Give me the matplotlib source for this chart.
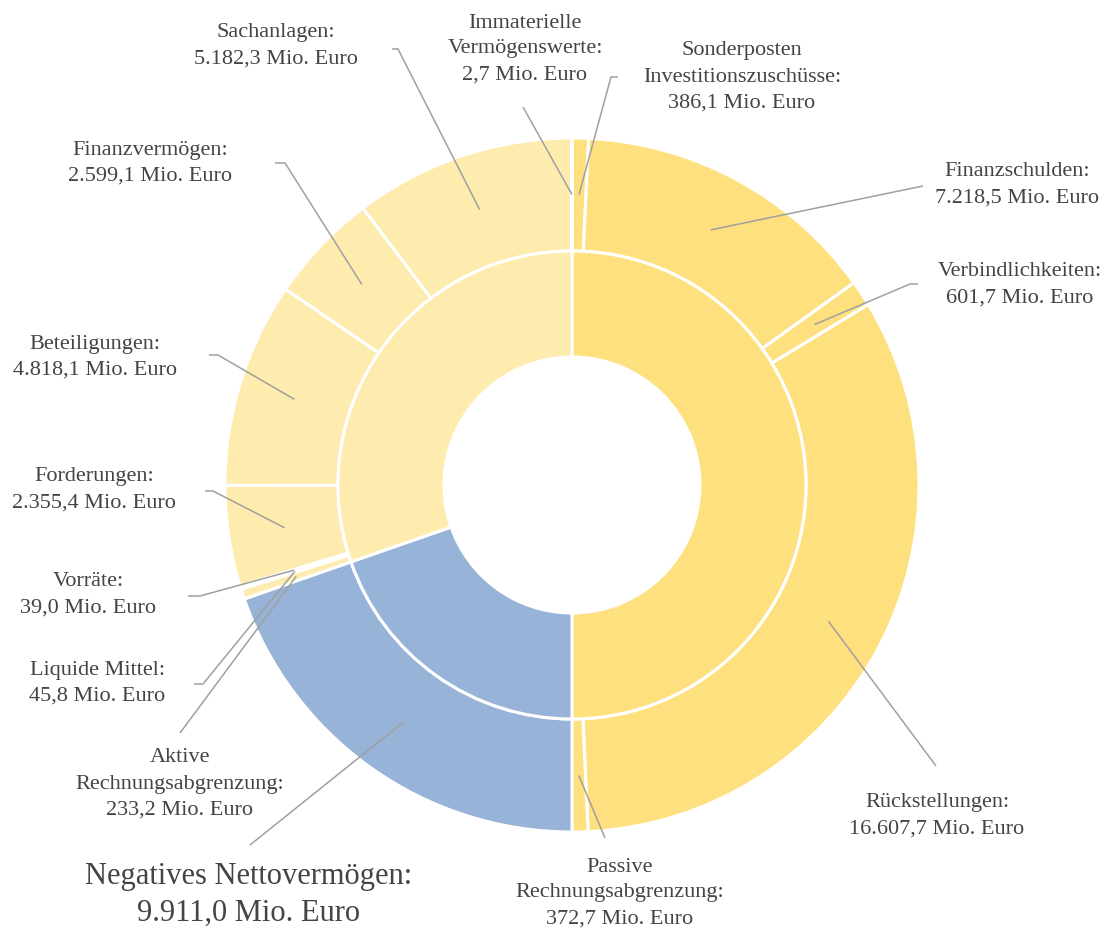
import numpy as np
import matplotlib
matplotlib.use('Agg')
from matplotlib import pyplot as plt

# Passiva (rechte Hälfte, im Uhrzeigersinn ab 12 Uhr)
passiva_names = ['Sonderposten\nInvestitionszuschüsse', 'Finanzschulden',
                 'Verbindlichkeiten', 'Rückstellungen',
                 'Passive\nRechnungsabgrenzung']
passiva_values = [386.1, 7218.5, 601.7, 16607.7, 372.7]

# Negatives Nettovermögen + Aktiva (linke Hälfte, ab 6 Uhr im Uhrzeigersinn)
netto_name = 'Negatives Nettovermögen'
netto_value = 9911.0
aktiva_names = ['Aktive\nRechnungsabgrenzung', 'Liquide Mittel', 'Vorräte',
                'Forderungen', 'Beteiligungen', 'Finanzvermögen',
                'Sachanlagen', 'Immaterielle\nVermögenswerte']
aktiva_values = [233.2, 45.8, 39.0, 2355.4, 4818.1, 2599.1, 5182.3, 2.7]

c_passiva = '#FEE17E'
c_aktiva = '#FEEBAE'
c_netto = '#97B3D7'
c_text = '#444444'
c_line = '#a0a0a0'

# Pixel-Layout: Zentrum des Rings im Bild
cx, cy = 572, 485
r_out, r_mid, r_in = 347, 234, 128

# Text-Position (x, y) und Startpunkt der Linie (x, y, Knick) in Pixeln
label_pos = [(742, 77), (1017, 185), (1020, 285), (937, 816), (620, 893),
             (249, 895),
             (180, 784), (97, 683), (88, 595), (94, 490), (95, 357),
             (150, 163), (276, 46), (525, 49)]
line_start = [(618, 77, -7), (923, 186, 0), (918, 284, -8), (936, 766, 0),
              (605, 838, 0),
              (250, 845, 0),
              (180, 733, 0), (194, 684, 9), (188, 596, 12), (205, 491, 8),
              (209, 355, 9), (275, 163, 10), (392, 49, 6), (523, 107, 0)]


def fmt(v):
    s = f'{v:,.1f}'
    return s.replace(',', 'X').replace('.', ',').replace('X', '.') + ' Mio. Euro'


plt.rcParams['font.family'] = ['Liberation Serif', 'DejaVu Serif']

fig = plt.figure(figsize=(11.11, 9.31), dpi=100, facecolor='white')
ax = fig.add_axes([0, 0, 1, 1])
ax.axis('off')

outer_vals = passiva_values + [netto_value] + aktiva_values
outer_names = passiva_names + [netto_name] + aktiva_names
outer_cols = [c_passiva] * len(passiva_values) + [c_netto] + [c_aktiva] * len(aktiva_values)

inner_vals = [sum(passiva_values), netto_value, sum(aktiva_values)]
inner_cols = [c_passiva, c_netto, c_aktiva]

wp = dict(edgecolor='white', linewidth=2.2)
wedges, _ = ax.pie(outer_vals, radius=r_out, colors=outer_cols,
                   startangle=90, counterclock=False,
                   wedgeprops=dict(width=r_out - r_mid, **wp))
ax.pie(inner_vals, radius=r_mid, colors=inner_cols,
       startangle=90, counterclock=False,
       wedgeprops=dict(width=r_mid - r_in, **wp))
ax.set_xlim(-cx, 1111 - cx)
ax.set_ylim(cy - 931, cy)
ax.set_aspect('equal')

r_anchor = (r_out + r_mid) / 2
for i, w in enumerate(wedges):
    mid = np.deg2rad((w.theta1 + w.theta2) / 2)
    axx, axy = r_anchor * np.cos(mid), r_anchor * np.sin(mid)
    lx, ly, stub = line_start[i]
    x0, y0 = lx - cx, cy - ly
    ax.plot([x0, x0 + stub, axx], [y0, y0, axy], color=c_line, lw=1.1,
            solid_capstyle='butt', zorder=5)
    tx, ty = label_pos[i]
    big = outer_names[i] == netto_name
    ax.text(tx - cx, cy - ty, outer_names[i] + ':\n' + fmt(outer_vals[i]),
            ha='center', va='center', multialignment='center',
            fontsize=22 if big else 16, linespacing=1.33 if big else 1.5,
            color=c_text, zorder=6)

fig.savefig('out.png', dpi=100, facecolor='white')
